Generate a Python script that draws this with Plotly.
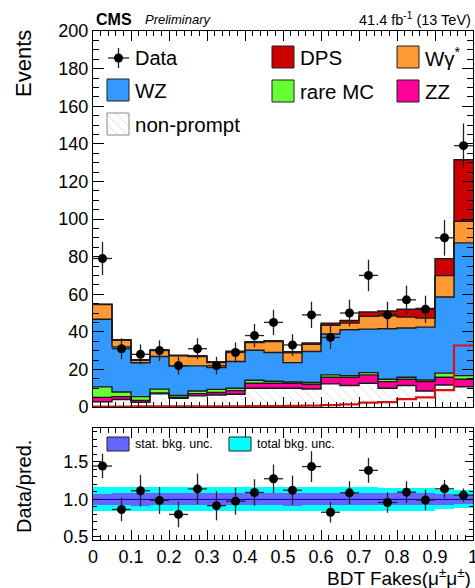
import numpy as np
import plotly.graph_objects as go

# ---- data: BDT Fakes (mu+- mu+-), 20 bins in [0, 1] ----
bin_edges = [0.00, 0.05, 0.10, 0.15, 0.20, 0.25, 0.30, 0.35, 0.40, 0.45, 0.50,
             0.55, 0.60, 0.65, 0.70, 0.75, 0.80, 0.85, 0.90, 0.95, 1.00]

nonprompt = [2.8, 4.0, 2.5, 7.0, 4.6, 5.9, 6.4, 6.8, 10.0, 10.0,
             10.0, 9.6, 12.3, 11.4, 12.6, 10.0, 11.4, 8.5, 11.7, 10.8]
zz = [2.3, 1.5, 1.0, 0.5, 0.6, 1.2, 1.3, 1.9, 2.6, 2.6,
      2.6, 2.5, 3.5, 4.4, 4.5, 3.5, 3.4, 5.0, 4.1, 4.0]
rare_mc = [5.6, 2.5, 2.0, 2.0, 1.0, 1.4, 1.7, 1.3, 1.6, 1.1,
           0.7, 0.9, 1.3, 0.9, 1.2, 1.3, 1.0, 0.9, 2.2, 1.9]
wz = [36.0, 24.0, 18.0, 17.4, 15.7, 13.4, 11.6, 14.2, 16.0, 15.3,
      10.3, 16.5, 21.7, 24.4, 23.1, 26.8, 26.2, 28.1, 40.5, 70.6]
wgamma = [7.8, 3.6, 1.3, 3.2, 5.3, 5.0, 2.6, 5.1, 4.1, 5.8,
          5.2, 3.9, 4.8, 3.5, 6.8, 6.9, 5.8, 4.8, 11.4, 11.5]
dps = [0.2, 0.2, 0.3, 0.3, 0.3, 0.3, 0.4, 0.4, 0.5, 0.5,
       0.6, 0.7, 1.0, 1.4, 2.3, 2.6, 4.2, 5.1, 9.0, 32.7]
data = [79, 31, 28, 30, 22, 31, 22, 29, 38, 45,
        33, 49, 37, 50, 70, 49, 57, 52, 90, 139]

# relative background uncertainties for the ratio panel
stat_unc = [0.07, 0.08, 0.09, 0.08, 0.08, 0.08, 0.09, 0.08, 0.08, 0.08,
            0.09, 0.08, 0.08, 0.08, 0.08, 0.08, 0.08, 0.08, 0.07, 0.06]
total_unc = [0.16, 0.16, 0.16, 0.16, 0.16, 0.16, 0.16, 0.16, 0.16, 0.16,
             0.16, 0.16, 0.16, 0.16, 0.16, 0.15, 0.15, 0.15, 0.13, 0.12]

# axis tick labels
x_tick_vals = [0.0, 0.1, 0.2, 0.3, 0.4, 0.5, 0.6, 0.7, 0.8, 0.9, 1.0]
x_tick_text = ["0", "0.1", "0.2", "0.3", "0.4", "0.5", "0.6", "0.7", "0.8", "0.9", "1"]
ratio_tick_vals = [0.5, 1.0, 1.5]
ratio_tick_text = ["0.5", "1.0", "1.5"]

# stack order (bottom -> top), labels and colours
components = [
    ("non-prompt", nonprompt, "#ffffff"),
    ("ZZ", zz, "#ff0099"),
    ("rare MC", rare_mc, "#66ff33"),
    ("WZ", wz, "#3399ff"),
    ("W&#947;<sup>*</sup>", wgamma, "#ff9933"),
    ("DPS", dps, "#cc0000"),
]

FONT = "Liberation Sans, Arial, Helvetica, sans-serif"
W, H = 475, 588
L, R, T, B = 93, 473, 31, 540           # plotting area in page pixels
MAIN_BOTTOM, RATIO_TOP = 407, 428

edges = np.array(bin_edges)
centers = 0.5 * (edges[:-1] + edges[1:])
widths = np.diff(edges)
data_arr = np.array(data, dtype=float)

fig = go.Figure()

# ---- stacked backgrounds ----
base = np.zeros(len(centers))
tops = []
for name, vals, col in components:
    vals = np.array(vals)
    marker = dict(color=col, line=dict(width=0))
    if name == "non-prompt":
        marker["pattern"] = dict(shape="\\", fgcolor="#aaaaaa", bgcolor="#ffffff",
                                 size=7, solidity=0.12)
    fig.add_trace(go.Bar(x=centers, y=vals, base=base, width=widths,
                         marker=marker, showlegend=False,
                         xaxis="x", yaxis="y"))
    base = base + vals
    tops.append(base.copy())

total = base.copy()

# histogram outlines of each cumulative layer
for top in tops:
    fig.add_trace(go.Scatter(x=edges, y=list(top) + [top[-1]], mode="lines",
                             line=dict(color="#1a1a1a", width=1.4, shape="hv"),
                             showlegend=False, hoverinfo="skip",
                             xaxis="x", yaxis="y"))

# DPS shape drawn unstacked
fig.add_trace(go.Scatter(x=edges, y=list(dps) + [dps[-1]], mode="lines",
                         line=dict(color="#dd1111", width=2.2, shape="hv"),
                         showlegend=False, hoverinfo="skip",
                         xaxis="x", yaxis="y"))

# data points
fig.add_trace(go.Scatter(
    x=centers, y=data_arr, mode="markers",
    marker=dict(color="black", size=9),
    error_y=dict(type="data", array=np.sqrt(data_arr), color="#222222",
                 thickness=1.3, width=0),
    error_x=dict(type="data", array=widths / 2, color="#222222",
                 thickness=1.3, width=0),
    showlegend=False, xaxis="x", yaxis="y"))

# ---- ratio panel ----
fig.add_trace(go.Bar(x=centers, y=2 * np.array(total_unc),
                     base=1 - np.array(total_unc), width=widths,
                     marker=dict(color="#00ffff", line=dict(width=0)),
                     showlegend=False, xaxis="x2", yaxis="y2"))
fig.add_trace(go.Bar(x=centers, y=2 * np.array(stat_unc),
                     base=1 - np.array(stat_unc), width=widths,
                     marker=dict(color="#6666ff", line=dict(width=0)),
                     showlegend=False, xaxis="x2", yaxis="y2"))
fig.add_trace(go.Scatter(x=[0, 1], y=[1, 1], mode="lines",
                         line=dict(color="#0000bb", width=1),
                         showlegend=False, hoverinfo="skip",
                         xaxis="x2", yaxis="y2"))
ratio = data_arr / total
ratio_err = np.sqrt(data_arr) / total
fig.add_trace(go.Scatter(
    x=centers, y=ratio, mode="markers",
    marker=dict(color="black", size=9),
    error_y=dict(type="data", array=ratio_err, color="#222222",
                 thickness=1.3, width=0),
    error_x=dict(type="data", array=widths / 2, color="#222222",
                 thickness=1.3, width=0),
    showlegend=False, xaxis="x2", yaxis="y2"))


# ---- helpers: page pixels -> paper coordinates ----
def px(xp):
    return (xp - L) / (R - L)


def py(yp):
    return (B - yp) / (B - T)


main_dom = [py(MAIN_BOTTOM), 1.0]
ratio_dom = [0.0, py(RATIO_TOP)]

shapes = []
annotations = []


def text(s, x, y, size, xanchor="left", yanchor="middle", angle=0, **kw):
    annotations.append(dict(text=s, x=px(x), y=py(y), xref="paper", yref="paper",
                            xanchor=xanchor, yanchor=yanchor, showarrow=False,
                            textangle=angle, font=dict(family=FONT, size=size,
                                                       color="black", **kw)))


def swatch(x0, y0, x1, y1, color):
    shapes.append(dict(type="rect", xref="paper", yref="paper",
                       x0=px(x0), x1=px(x1), y0=py(y1), y1=py(y0),
                       fillcolor=color, line=dict(color="#222222", width=1)))


# main legend
legend_rows = {"Data": (108, 58), "WZ": (107, 90), "non-prompt": (107, 124),
               "DPS": (272, 57), "rare MC": (272, 91),
               "W&#947;<sup>*</sup>": (397, 57), "ZZ": (397, 91)}
colors = {n: c for n, _, c in components}
for name, (lx, ly) in legend_rows.items():
    if name == "Data":
        shapes.append(dict(type="line", xref="paper", yref="paper",
                           x0=px(108), x1=px(129), y0=py(ly), y1=py(ly),
                           line=dict(color="#222222", width=1.3)))
        shapes.append(dict(type="line", xref="paper", yref="paper",
                           x0=px(118.5), x1=px(118.5), y0=py(ly - 10), y1=py(ly + 10),
                           line=dict(color="#222222", width=1.3)))
        shapes.append(dict(type="circle", xref="paper", yref="paper",
                           x0=px(114), x1=px(123), y0=py(ly + 4.5), y1=py(ly - 4.5),
                           fillcolor="black", line=dict(width=0)))
        text("Data", 133, ly, 20)
    elif name == "non-prompt":
        # hatched swatch drawn as a filled polygon so it can carry the pattern
        sx0, sx1, sy0, sy1 = 107, 129, ly - 11, ly + 11
        fx = [(v - L) / (R - L) for v in (sx0, sx1, sx1, sx0, sx0)]
        fy = [(MAIN_BOTTOM - v) * 200 / (MAIN_BOTTOM - T) for v in (sy0, sy0, sy1, sy1, sy0)]
        fig.add_trace(go.Scatter(x=fx, y=fy, mode="lines", fill="toself",
                                 fillcolor="#ffffff",
                                 fillpattern=dict(shape="\\", fgcolor="#aaaaaa",
                                                  bgcolor="#ffffff", size=7,
                                                  solidity=0.12),
                                 line=dict(color="#888888", width=1),
                                 showlegend=False, hoverinfo="skip",
                                 xaxis="x", yaxis="y"))
        text("non-prompt", 133, ly, 20.5)
    else:
        swatch(lx, ly - 11, lx + 22, ly + 11, colors[name])
        text(name, lx + 26, ly, 20.5)

# ratio legend
swatch(107, 437, 129, 451, "#6666ff")
text("stat. bkg. unc.", 133, 444, 12.5)
swatch(229, 437, 251, 451, "#00ffff")
text("total bkg. unc.", 255, 444, 12.5)

# header and axis titles
text("<b>CMS</b>", 94, 19, 16)
text("<i>Preliminary</i>", 143, 19, 13)
text("41.4 fb<sup>-1</sup> (13 TeV)", 473, 19, 14.5, xanchor="right")
text("Events", 24, 64, 22, xanchor="center", angle=-90)
text("Data/pred.", 24, 487, 20, xanchor="center", angle=-90)
text("BDT Fakes(&#956;<sup>&#177;</sup>&#956;<sup>&#177;</sup>)", 473, 576.5, 19,
     xanchor="right")

axis_common = dict(showline=True, linecolor="black", linewidth=1, mirror="allticks",
                   ticks="inside", tickcolor="black", showgrid=False, zeroline=False,
                   ticklabeloverflow="allow", automargin=False,
                   tickfont=dict(family=FONT, size=18, color="black"))

x_minor = dict(ticks="inside", tickmode="linear", tick0=0, dtick=0.02, ticklen=5,
               tickcolor="black")

fig.update_layout(
    width=W, height=H,
    margin=dict(l=L, r=W - R, t=T, b=H - B),
    paper_bgcolor="white", plot_bgcolor="white",
    barmode="overlay", bargap=0,
    showlegend=False,
    xaxis=dict(domain=[0, 1], range=[0, 1], anchor="y", showticklabels=False,
               tickvals=x_tick_vals, ticktext=x_tick_text, ticklen=10,
               minor=x_minor, **axis_common),
    yaxis=dict(domain=main_dom, range=[0, 200], anchor="x", dtick=20, ticklen=11,
               minor=dict(ticks="inside", dtick=5, ticklen=6, tickcolor="black"),
               **axis_common),
    xaxis2=dict(domain=[0, 1], range=[0, 1], anchor="y2", matches="x",
                tickvals=x_tick_vals, ticktext=x_tick_text, ticklen=10,
                minor=x_minor, **axis_common),
    yaxis2=dict(domain=ratio_dom, range=[0.46, 1.95], anchor="x2",
                tickvals=ratio_tick_vals, ticktext=ratio_tick_text, ticklen=8,
                minor=dict(ticks="inside", tickmode="linear", tick0=0, dtick=0.1,
                           ticklen=4, tickcolor="black"),
                **axis_common),
    shapes=shapes,
    annotations=annotations,
)

fig.write_html("out.html")
